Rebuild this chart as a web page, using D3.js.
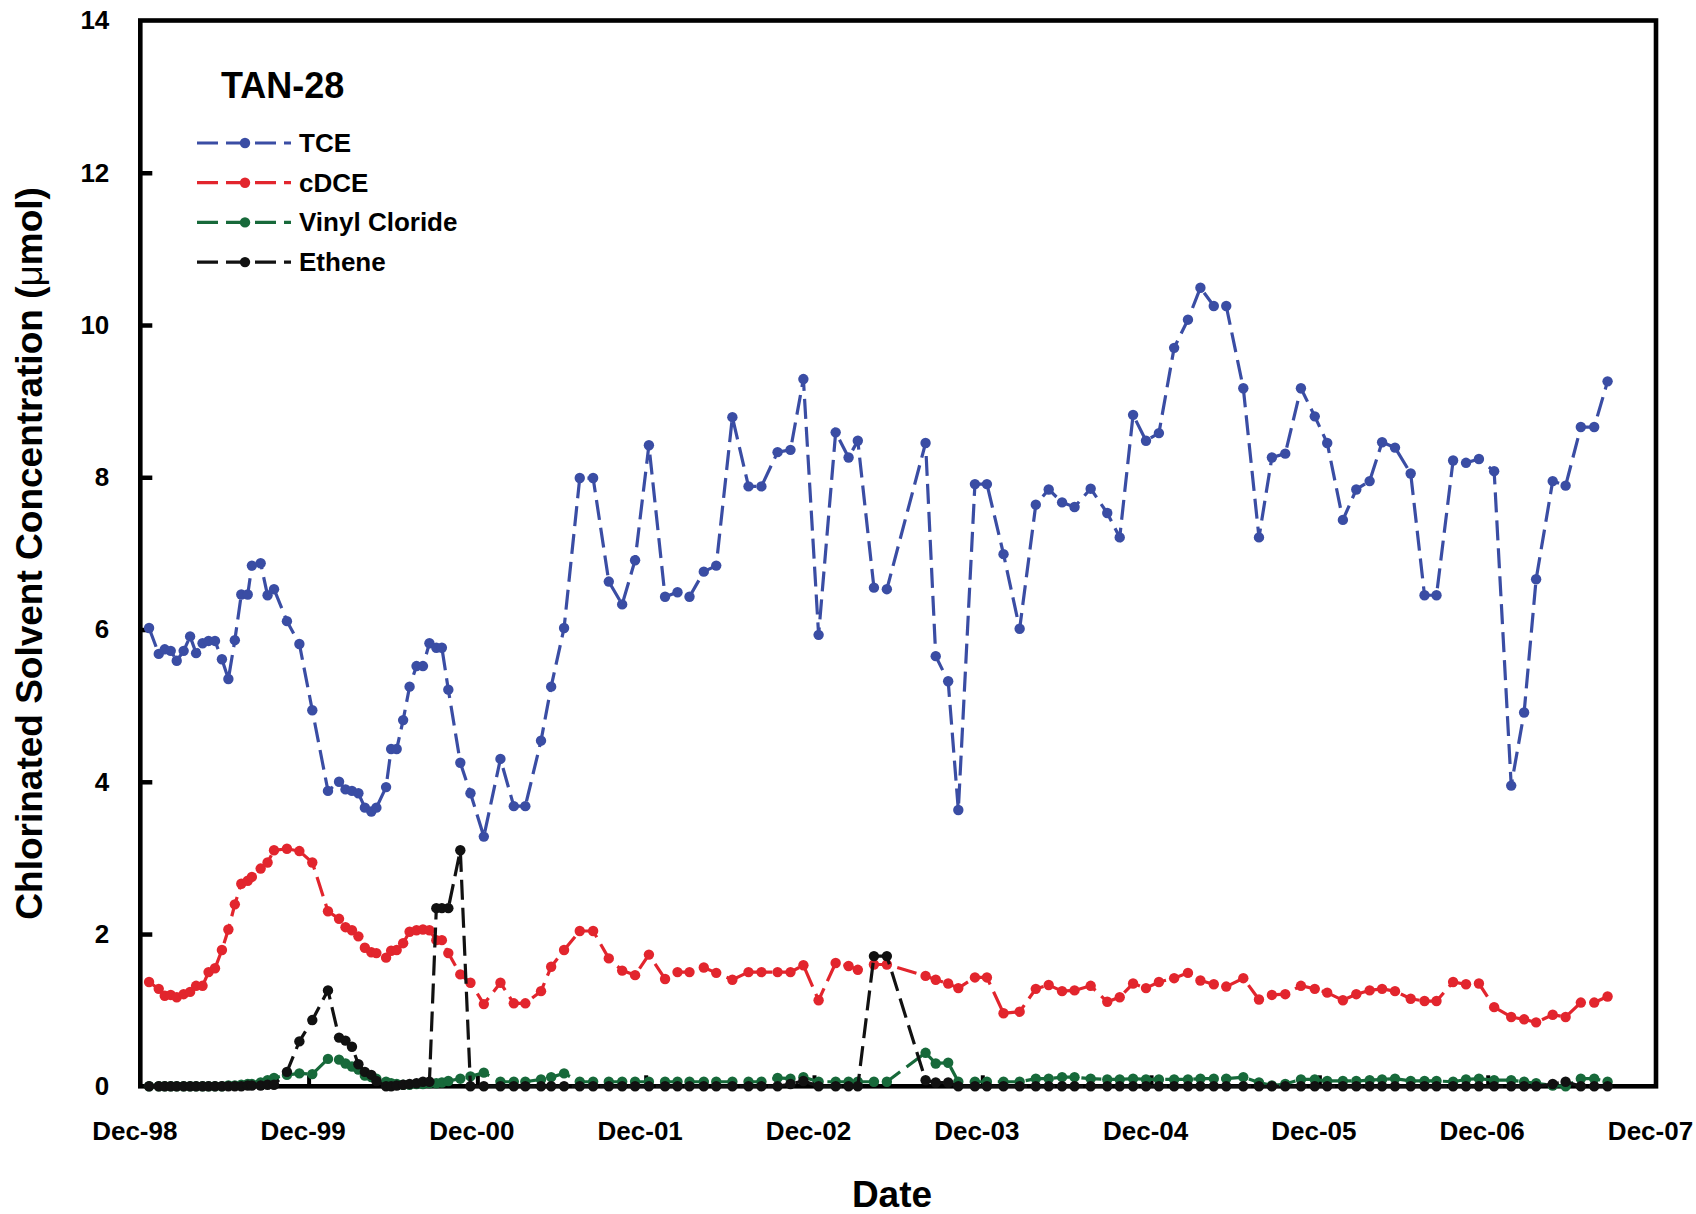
<!DOCTYPE html>
<html>
<head>
<meta charset="utf-8">
<script src="https://cdn.jsdelivr.net/npm/d3@7"></script>
<style>
  html, body { margin: 0; padding: 0; background: #fff; }
  svg { display: block; }
</style>
</head>
<body>
<svg id="chart" width="1696" height="1214"></svg>
<script>
// Sampling dates shared by all four analytes
const sampleDates = [
  "1998-12-20","1999-01-10","1999-01-23","1999-02-05","1999-02-18","1999-03-05","1999-03-19","1999-04-01","1999-04-15","1999-04-28",
  "1999-05-12","1999-05-27","1999-06-10","1999-06-24","1999-07-08","1999-07-22","1999-07-31","1999-08-19","1999-09-03","1999-09-17",
  "1999-10-15","1999-11-11","1999-12-09","2000-01-12","2000-02-05","2000-02-19","2000-03-04","2000-03-18","2000-04-01","2000-04-15",
  "2000-04-26","2000-05-17","2000-05-28","2000-06-09","2000-06-23","2000-07-07","2000-07-22","2000-08-05","2000-08-19","2000-09-03",
  "2000-09-15","2000-09-29","2000-10-25","2000-11-16","2000-12-15","2001-01-20","2001-02-18","2001-03-15","2001-04-18","2001-05-10",
  "2001-06-07","2001-07-11","2001-08-09","2001-09-12","2001-10-11","2001-11-08","2001-12-08","2002-01-12","2002-02-08","2002-03-06",
  "2002-04-06","2002-05-03","2002-06-07","2002-07-12","2002-08-09","2002-09-13","2002-10-11","2002-11-08","2002-12-11","2003-01-17",
  "2003-02-14","2003-03-06","2003-04-10","2003-05-08","2003-07-31","2003-08-22","2003-09-18","2003-10-10","2003-11-15","2003-12-11",
  "2004-01-16","2004-02-20","2004-03-26","2004-04-23","2004-05-22","2004-06-18","2004-07-23","2004-08-28","2004-09-24","2004-10-23",
  "2004-11-20","2004-12-18","2005-01-20","2005-02-19","2005-03-18","2005-04-16","2005-05-13","2005-06-19","2005-07-23","2005-08-20",
  "2005-09-18","2005-10-22","2005-11-21","2005-12-18","2006-01-21","2006-02-19","2006-03-20","2006-04-16","2006-05-14","2006-06-17",
  "2006-07-17","2006-08-12","2006-09-17","2006-10-15","2006-11-12","2006-12-15","2007-01-21","2007-02-18","2007-03-16","2007-04-21",
  "2007-05-19","2007-06-21","2007-07-20","2007-08-18"
];

// Concentrations (umol)
const tce = [
  6.02,5.68,5.74,5.72,5.59,5.72,5.91,5.69,5.82,5.85,
  5.85,5.61,5.35,5.86,6.46,6.46,6.84,6.87,6.45,6.53,
  6.11,5.81,4.94,3.88,4.00,3.90,3.88,3.85,3.66,3.61,
  3.66,3.93,4.43,4.43,4.81,5.25,5.52,5.52,5.82,5.76,
  5.76,5.21,4.25,3.85,3.28,4.30,3.68,3.68,4.54,5.25,
  6.02,7.99,7.99,6.63,6.33,6.91,8.42,6.43,6.49,6.43,
  6.76,6.84,8.79,7.88,7.88,8.33,8.36,9.29,5.93,8.59,
  8.26,8.48,6.55,6.53,8.45,5.65,5.32,3.63,7.91,7.91,
  6.99,6.01,7.64,7.84,7.67,7.61,7.85,7.53,7.21,8.82,
  8.48,8.58,9.70,10.07,10.49,10.25,10.25,9.17,7.21,8.26,
  8.31,9.17,8.80,8.45,7.44,7.84,7.95,8.46,8.39,8.05,
  6.45,6.45,8.22,8.19,8.24,8.08,3.95,4.91,6.66,7.95,
  7.89,8.66,8.66,9.26
];
const cdce = [
  1.37,1.28,1.19,1.20,1.17,1.21,1.24,1.32,1.32,1.50,
  1.55,1.79,2.06,2.39,2.66,2.70,2.75,2.86,2.94,3.10,
  3.12,3.09,2.94,2.30,2.20,2.09,2.05,1.97,1.82,1.76,
  1.75,1.69,1.78,1.79,1.88,2.03,2.05,2.06,2.05,1.92,
  1.92,1.75,1.47,1.36,1.08,1.36,1.09,1.09,1.25,1.57,
  1.79,2.04,2.04,1.68,1.52,1.46,1.73,1.41,1.50,1.50,
  1.56,1.49,1.40,1.50,1.50,1.50,1.50,1.59,1.13,1.62,
  1.58,1.53,1.60,1.60,1.45,1.40,1.35,1.29,1.43,1.43,
  0.96,0.98,1.28,1.33,1.25,1.26,1.32,1.11,1.17,1.35,
  1.29,1.37,1.42,1.49,1.39,1.34,1.31,1.42,1.14,1.20,
  1.21,1.32,1.28,1.23,1.13,1.21,1.26,1.28,1.25,1.15,
  1.12,1.12,1.37,1.34,1.35,1.04,0.91,0.88,0.84,0.94,
  0.91,1.10,1.10,1.18
];
const vinylChloride = [
  0,0,0,0,0,0,0,0,0,0,
  0,0,0.01,0.01,0.02,0.03,0.03,0.05,0.08,0.11,
  0.15,0.17,0.16,0.36,0.35,0.30,0.26,0.22,0.14,0.12,
  0.10,0.06,0.04,0.03,0.02,0.02,0.03,0.03,0.04,0.04,
  0.05,0.07,0.10,0.13,0.18,0.06,0.06,0.06,0.09,0.12,
  0.17,0.06,0.06,0.06,0.06,0.06,0.06,0.06,0.06,0.06,
  0.06,0.06,0.06,0.06,0.06,0.11,0.10,0.12,0.06,0.06,
  0.06,0.06,0.06,0.06,0.44,0.30,0.31,0.06,0.06,0.06,
  0.06,0.06,0.10,0.10,0.12,0.12,0.10,0.09,0.09,0.10,
  0.09,0.09,0.09,0.09,0.10,0.10,0.10,0.12,0.05,0.01,
  0.03,0.09,0.09,0.07,0.07,0.07,0.08,0.09,0.10,0.07,
  0.07,0.07,0.06,0.09,0.10,0.08,0.08,0.06,0.04,0.01,
  0.00,0.10,0.10,0.06
];
const ethene = [
  0,0,0,0,0,0,0,0,0,0,
  0,0,0,0,0,0.01,0.01,0.01,0.02,0.02,
  0.19,0.59,0.87,1.26,0.64,0.60,0.52,0.29,0.19,0.15,
  0.07,0,0,0.01,0.02,0.03,0.04,0.06,0.06,2.34,
  2.34,2.34,3.10,0,0,0,0,0,0,0,
  0,0,0,0,0,0,0,0,0,0,
  0,0,0,0,0,0,0.03,0.07,0,0,
  0,0,1.71,1.71,0.08,0.05,0.05,0,0,0,
  0,0,0,0,0,0,0,0,0,0,
  0,0,0,0,0,0,0,0,0,0,
  0,0,0,0,0,0,0,0,0,0,
  0,0,0,0,0,0,0,0,0,0.03,
  0.06,0,0,0
];

const seriesNames  = ["TCE", "cDCE", "Vinyl Cloride", "Ethene"];
const seriesValues = [tce, cdce, vinylChloride, ethene];
const seriesColors = ["#3a4da4", "#e2252d", "#17693a", "#111111"];

const yTickValues = [0, 2, 4, 6, 8, 10, 12, 14];
const xTickDates  = ["1998-12-01","1999-12-01","2000-12-01","2001-12-01","2002-12-01",
                     "2003-12-01","2004-12-01","2005-12-01","2006-12-01","2007-12-01"];
const wellName = "TAN-28";
const xTitle = "Date";

const FONT = "'Liberation Sans', Arial, Helvetica, sans-serif";
const parseDate = d3.utcParse("%Y-%m-%d");
const dates = sampleDates.map(parseDate);

const plot = { left: 140.3, right: 1656, top: 20.5, bottom: 1086.3 };

const x = d3.scaleUtc()
  .domain([parseDate(xTickDates[0]), parseDate(xTickDates[xTickDates.length - 1])])
  .range([plot.left, plot.right]);
const y = d3.scaleLinear().domain([0, 14]).range([plot.bottom, plot.top]);

const svg = d3.select("#chart");
svg.append("rect").attr("width", 1696).attr("height", 1214).attr("fill", "#fff");

// Frame around the plotting area
svg.append("rect")
  .attr("x", plot.left).attr("y", plot.top)
  .attr("width", plot.right - plot.left).attr("height", plot.bottom - plot.top)
  .attr("fill", "none").attr("stroke", "#000").attr("stroke-width", 4.6);

// Y axis: inward ticks, bold labels
const yAxis = svg.append("g")
  .attr("transform", `translate(${plot.left},0)`)
  .call(d3.axisLeft(y).tickValues(yTickValues).tickFormat(d3.format("d"))
        .tickSize(-12).tickPadding(31));
yAxis.select(".domain").remove();
yAxis.selectAll(".tick line").attr("stroke", "#000").attr("stroke-width", 4.5)
  .attr("display", d => (d === 0 || d === 14) ? "none" : null);
yAxis.selectAll(".tick text")
  .attr("font-family", FONT).attr("font-size", 26).attr("font-weight", "bold").attr("fill", "#000");

// X axis: yearly December ticks
const xAxis = svg.append("g")
  .attr("transform", `translate(0,${plot.bottom})`)
  .call(d3.axisBottom(x).tickValues(xTickDates.map(parseDate))
        .tickFormat(d3.utcFormat("%b-%y")).tickSize(-11).tickPadding(35));
xAxis.select(".domain").remove();
xAxis.selectAll(".tick line").attr("stroke", "#000").attr("stroke-width", 4)
  .attr("display", (d, i) => (i === 0 || i === xTickDates.length - 1) ? "none" : null);
xAxis.selectAll(".tick text")
  .attr("font-family", FONT).attr("font-size", 26).attr("font-weight", "bold")
  .attr("fill", "#000").attr("dx", -6);

// Axis titles
svg.append("text")
  .attr("x", 892).attr("y", 1207)
  .attr("text-anchor", "middle")
  .attr("font-family", FONT).attr("font-size", 37).attr("font-weight", "bold")
  .text(xTitle);

const yTitle = svg.append("text")
  .attr("transform", `translate(42,${(plot.top + plot.bottom) / 2}) rotate(-90)`)
  .attr("text-anchor", "middle")
  .attr("font-family", FONT).attr("font-size", 37).attr("font-weight", "bold");
yTitle.append("tspan").text("Chlorinated Solvent Concentration (");
yTitle.append("tspan").attr("font-weight", "normal").text("\u03bc");
yTitle.append("tspan").text("mol)");

// Data series: dashed lines with dot markers
const line = d3.line().x(d => x(d.date)).y(d => y(d.value));
const LINE_W = 3.2, DASH = "20,8", R = 5.2;

seriesValues.forEach((vals, si) => {
  const pts = vals.map((v, i) => ({ date: dates[i], value: v })).filter(p => p.value != null);
  const g = svg.append("g");
  g.append("path")
    .datum(pts)
    .attr("d", line)
    .attr("fill", "none")
    .attr("stroke", seriesColors[si])
    .attr("stroke-width", LINE_W)
    .attr("stroke-dasharray", DASH);
  g.selectAll("circle")
    .data(pts)
    .join("circle")
    .attr("cx", d => x(d.date))
    .attr("cy", d => y(d.value))
    .attr("r", R)
    .attr("fill", seriesColors[si]);
});

// Well name and legend
svg.append("text")
  .attr("x", 221).attr("y", 98)
  .attr("font-family", FONT).attr("font-size", 36).attr("font-weight", "bold")
  .text(wellName);

const legend = svg.append("g");
seriesNames.forEach((name, i) => {
  const ly = 143 + i * 39.7;
  legend.append("line")
    .attr("x1", 197).attr("x2", 291).attr("y1", ly).attr("y2", ly)
    .attr("stroke", seriesColors[i]).attr("stroke-width", LINE_W)
    .attr("stroke-dasharray", "21,8");
  legend.append("circle")
    .attr("cx", 245).attr("cy", ly).attr("r", R).attr("fill", seriesColors[i]);
  legend.append("text")
    .attr("x", 299).attr("y", ly)
    .attr("dominant-baseline", "central")
    .attr("font-family", FONT).attr("font-size", 26).attr("font-weight", "bold")
    .text(name);
});
</script>
</body>
</html>
